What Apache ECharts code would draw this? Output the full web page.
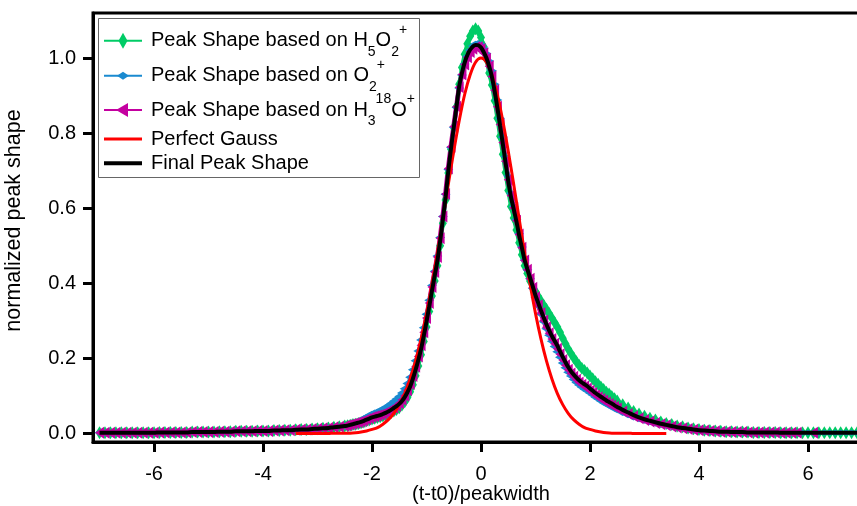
<!DOCTYPE html>
<html>
<head>
<meta charset="utf-8">
<script src="https://cdn.jsdelivr.net/npm/echarts@6/dist/echarts.min.js"></script>
<style>
html,body{margin:0;padding:0;background:#fff;}
#chart{width:857px;height:506px;}
</style>
</head>
<body>
<div id="chart"></div>
<script>
// ---- data ----
const xs = [-7,-6.9,-6.8,-6.7,-6.6,-6.5,-6.4,-6.3,-6.2,-6.1,-6,-5.9,-5.8,-5.7,-5.6,-5.5,-5.4,-5.3,-5.2,-5.1,-5,-4.9,-4.8,-4.7,-4.6,-4.5,-4.4,-4.3,-4.2,-4.1,-4,-3.9,-3.8,-3.7,-3.6,-3.5,-3.4,-3.3,-3.2,-3.1,-3,-2.9,-2.8,-2.7,-2.6,
-2.5,-2.45,-2.4,-2.35,-2.3,-2.25,-2.2,-2.15,-2.1,-2.05,-2,-1.95,-1.9,-1.85,-1.8,-1.75,-1.7,-1.65,-1.6,-1.55,-1.5,-1.45,-1.4,-1.35,-1.3,-1.25,-1.2,-1.15,-1.1,-1.05,-1,-0.95,-0.9,-0.85,-0.8,-0.75,-0.7,-0.65,-0.6,-0.55,-0.5,-0.45,-0.4,-0.35,-0.3,-0.25,-0.2,-0.15,-0.1,-0.05,0,0.05,0.1,0.15,0.2,0.25,0.3,0.35,0.4,0.45,0.5,0.55,0.6,0.65,0.7,0.75,0.8,0.85,0.9,0.95,1,1.05,1.1,1.15,1.2,1.25,1.3,1.35,1.4,1.45,1.5,1.55,1.6,1.65,1.7,1.75,1.8,1.85,1.9,1.95,2,2.05,2.1,2.15,2.2,2.25,2.3,2.35,2.4,2.45,2.5,
2.6,2.7,2.8,2.9,3,3.1,3.2,3.3,3.4,3.5,3.6,3.7,3.8,3.9,4,4.1,4.2,4.3,4.4,4.5,4.6,4.7,4.8,4.9,5,5.1,5.2,5.3,5.4,5.5,5.6,5.7,5.8,5.9,6,6.1,6.2,6.3,6.4,6.5,6.6,6.7,6.8,6.9,7];

// Peak Shape based on H5O2+
const greenY = [.002,.002,.002,.002,.002,.002,.002,.002,.002,.002,.002,.003,.003,.003,.003,.003,.003,.004,.004,.004,.004,.004,.005,.005,.005,.006,.006,.006,.006,.007,.007,.007,.008,.008,.009,.009,.010,.011,.011,.012,.013,.014,.015,.017,.018,
.020,.021,.022,.024,.025,.027,.029,.031,.034,.036,.039,.041,.043,.045,.047,.050,.053,.056,.060,.064,.069,.076,.085,.096,.111,.130,.154,.180,.210,.245,.284,.325,.366,.406,.447,.500,.560,.622,.694,.757,.815,.870,.930,.975,1.010,1.038,1.058,1.072,1.078,1.072,1.055,1.030,.998,.960,.928,.886,.840,.792,.744,.695,.647,.605,.574,.542,.508,.476,.447,.426,.406,.387,.378,.365,.353,.342,.331,.320,.308,.296,.284,.270,.254,.239,.225,.213,.202,.191,.182,.174,.168,.161,.153,.146,.138,.131,.124,.117,.110,.105,.099,.093,.087,
.077,.068,.059,.052,.046,.041,.036,.031,.027,.024,.020,.018,.015,.013,.011,.009,.008,.007,.006,.005,.005,.004,.004,.004,.003,.003,.003,.003,.003,.002,.002,.002,.002,.002,.002,.002,.002,.002,.002,.002,.002,.002,.002,.002,.002];

// Peak Shape based on O2+
const blueY = [.002,.002,.002,.002,.002,.002,.002,.002,.002,.002,.002,.003,.003,.003,.003,.003,.003,.004,.004,.004,.004,.004,.005,.005,.005,.006,.006,.006,.006,.007,.007,.007,.008,.008,.009,.009,.010,.011,.011,.012,.013,.014,.016,.017,.019,
.021,.022,.024,.027,.030,.033,.037,.041,.045,.049,.053,.056,.059,.062,.066,.070,.075,.080,.086,.092,.099,.108,.119,.133,.150,.170,.194,.220,.249,.282,.318,.355,.394,.432,.473,.522,.578,.637,.703,.762,.816,.868,.920,.955,.984,1.005,1.021,1.032,1.038,1.040,1.036,1.026,1.012,.992,.966,.930,.888,.840,.790,.738,.686,.640,.605,.570,.532,.497,.462,.436,.412,.387,.362,.340,.318,.298,.279,.262,.246,.232,.218,.203,.188,.175,.163,.153,.144,.136,.129,.123,.118,.113,.108,.103,.097,.092,.087,.082,.078,.074,.070,.066,.062,
.055,.049,.043,.038,.034,.030,.027,.024,.021,.018,.016,.014,.012,.010,.009,.008,.007,.006,.005,.005,.004,.004,.003,.003,.003,.003,.003,.003,.003,.002,.002,.002,.002,.002,.002,.002,.002,.002,.002,.002,.002,.002,.002,.002,.002];

// Peak Shape based on H3 18O+
const magentaY = [.002,.002,.002,.002,.002,.002,.002,.002,.002,.002,.002,.003,.003,.003,.003,.003,.003,.004,.004,.004,.004,.004,.005,.005,.005,.006,.006,.006,.006,.007,.007,.007,.008,.008,.009,.009,.010,.011,.011,.012,.013,.014,.015,.017,.018,
.020,.022,.024,.026,.028,.030,.032,.035,.038,.041,.044,.046,.048,.050,.053,.056,.060,.064,.069,.074,.081,.090,.101,.115,.132,.153,.178,.205,.235,.270,.308,.348,.390,.430,.470,.520,.578,.638,.706,.764,.818,.870,.922,.956,.983,1.002,1.016,1.025,1.029,1.029,1.024,1.013,.998,.978,.951,.914,.870,.823,.775,.725,.676,.634,.601,.567,.530,.495,.461,.436,.412,.388,.363,.342,.321,.301,.283,.267,.252,.239,.226,.211,.196,.182,.170,.160,.151,.143,.136,.130,.125,.120,.114,.108,.102,.097,.092,.088,.083,.079,.075,.071,.067,
.059,.052,.046,.041,.036,.032,.028,.025,.022,.019,.016,.014,.012,.010,.009,.008,.007,.006,.005,.005,.004,.004,.004,.003,.003,.003,.003,.003,.003,.002,.002,.002,.002,null,null,.002,null,null,null,null,null,null,null,null,null];

// Final Peak Shape
const finalY = [.002,.002,.002,.002,.002,.002,.002,.002,.002,.002,.002,.003,.003,.003,.003,.003,.003,.004,.004,.004,.004,.004,.005,.005,.005,.006,.006,.006,.006,.007,.007,.007,.008,.008,.009,.009,.010,.011,.011,.012,.013,.014,.015,.017,.018,
.020,.021,.023,.025,.027,.029,.031,.034,.037,.040,.043,.045,.047,.049,.052,.055,.059,.063,.068,.073,.079,.087,.097,.110,.125,.146,.170,.196,.225,.260,.298,.338,.380,.420,.460,.512,.570,.630,.700,.760,.815,.870,.925,.960,.988,1.008,1.022,1.031,1.035,1.034,1.028,1.016,1.000,.978,.950,.912,.868,.820,.772,.722,.672,.630,.598,.565,.528,.495,.462,.438,.415,.392,.368,.348,.328,.309,.291,.275,.260,.247,.234,.219,.204,.190,.177,.166,.157,.149,.142,.136,.131,.126,.120,.114,.108,.103,.098,.093,.088,.084,.080,.075,.071,
.063,.056,.049,.043,.038,.034,.030,.026,.023,.020,.017,.015,.013,.011,.009,.008,.007,.006,.005,.005,.004,.004,.004,.003,.003,.003,.003,.003,.003,.002,.002,.002,.002,.002,.002,.002,.002,.002,.002,.002,.002,.002,.002,.002,.002];

// Perfect Gauss
const gaussX = [-3.4,-3.3,-3.2,-3.1,-3,-2.9,-2.8,-2.7,-2.6,-2.5,-2.4,-2.3,-2.2,-2.1,-2,-1.9,-1.8,-1.7,-1.6,-1.5,-1.4,-1.3,-1.2,-1.1,-1,-0.9,-0.8,-0.7,-0.6,-0.5,-0.4,-0.3,-0.2,-0.1,0,0.1,0.2,0.3,0.4,0.5,0.6,0.7,0.8,0.9,1,1.1,1.2,1.3,1.4,1.5,1.6,1.7,1.8,1.9,2,2.1,2.2,2.3,2.4,2.5,2.6,2.7,2.8,2.9,3,3.1,3.2,3.3,3.4];
const gaussY = [0,0,0,0,0,0,0,.001,.001,.001,.001,.002,.004,.007,.011,.016,.025,.037,.054,.077,.107,.146,.194,.252,.320,.398,.482,.572,.664,.752,.833,.903,.955,.989,1.000,.989,.955,.903,.833,.752,.664,.572,.482,.398,.320,.252,.194,.146,.107,.077,.054,.037,.025,.016,.011,.007,.004,.002,.001,.001,.001,.001,0,0,0,0,0,0,0];

const xTicks = [-6,-4,-2,0,2,4,6];
const yTicks = [0,0.2,0.4,0.6,0.8,1.0];

const legendLabels = [
  'Peak Shape based on H{sub|5}O{sub|2}{sup|+}',
  'Peak Shape based on O{sub|2}{sup|+}',
  'Peak Shape based on H{sub|3}{sup|18}O{sup|+}',
  'Perfect Gauss',
  'Final Peak Shape'
];

// ---- styling ----
const FONT = 'Liberation Sans, Arial, Helvetica, sans-serif';
const GREEN = '#00cc66', BLUE = '#1a8ad0', MAGENTA = '#c400a0', RED = '#ff0000', BLACK = '#000000';

function pairs(x, y) { return x.map((v, i) => [v, y[i] == null ? '-' : y[i]]); }

const chart = echarts.init(document.getElementById('chart'), null, {renderer: 'canvas'});

const axisCommon = {
  type: 'value',
  axisLine: {show: true, onZero: false, lineStyle: {color: '#000', width: 3}},
  axisTick: {show: true, inside: false, length: 10, lineStyle: {color: '#000', width: 3}},
  splitLine: {show: false},
  nameMoveOverlap: false
};

const lx0 = 104, lx1 = 142, lcx = 123, ltx = 151;
const ly = [40.7, 75.7, 110, 139, 163.3];
const richStyle = {
  sub: {fontSize: 14, fontFamily: FONT, lineHeight: 23, verticalAlign: 'bottom', fill: '#000'},
  sup: {fontSize: 14, fontFamily: FONT, lineHeight: 12, verticalAlign: 'top', fill: '#000'}
};

const graphic = [
  {type: 'rect', shape: {x: 98.5, y: 18.5, width: 321, height: 159}, style: {fill: '#fff', stroke: '#666', lineWidth: 1}, z: 100},
  {type: 'line', shape: {x1: lx0, y1: ly[0], x2: lx1, y2: ly[0]}, style: {stroke: GREEN, lineWidth: 2}, z: 101},
  {type: 'polygon', shape: {points: [[lcx, ly[0]-8], [lcx+4.5, ly[0]], [lcx, ly[0]+8], [lcx-4.5, ly[0]]]}, style: {fill: GREEN}, z: 102},
  {type: 'line', shape: {x1: lx0, y1: ly[1], x2: lx1, y2: ly[1]}, style: {stroke: BLUE, lineWidth: 2}, z: 101},
  {type: 'polygon', shape: {points: [[lcx-6, ly[1]], [lcx, ly[1]-4], [lcx+6, ly[1]], [lcx, ly[1]+4]]}, style: {fill: BLUE}, z: 102},
  {type: 'line', shape: {x1: lx0, y1: ly[2], x2: lx1, y2: ly[2]}, style: {stroke: MAGENTA, lineWidth: 2}, z: 101},
  {type: 'polygon', shape: {points: [[lcx-7, ly[2]], [lcx+5, ly[2]-7], [lcx+5, ly[2]+7]]}, style: {fill: MAGENTA}, z: 102},
  {type: 'line', shape: {x1: lx0, y1: ly[3], x2: lx1, y2: ly[3]}, style: {stroke: RED, lineWidth: 3}, z: 101},
  {type: 'line', shape: {x1: lx0, y1: ly[4], x2: lx1, y2: ly[4]}, style: {stroke: BLACK, lineWidth: 4}, z: 101}
];
legendLabels.forEach((t, i) => {
  graphic.push({
    type: 'text', x: ltx, y: ly[i], z: 103,
    style: {
      text: t, fill: '#000', fontSize: 20, fontFamily: FONT, lineHeight: 36,
      align: 'left', verticalAlign: 'middle', textAlign: 'left', textVerticalAlign: 'middle',
      rich: richStyle
    }
  });
});

function markerSeries(name, y, color, symbol, size, rotate, lw) {
  return {
    name, type: 'line', data: pairs(xs, y), color, z: 2,
    symbol, symbolSize: size, symbolRotate: rotate || 0, showSymbol: true, showAllSymbol: true,
    itemStyle: {color, borderWidth: 0},
    lineStyle: {color, width: lw},
    connectNulls: false, silent: true, emphasis: {disabled: true}, animation: false
  };
}

chart.setOption({
  animation: false,
  backgroundColor: '#fff',
  textStyle: {fontFamily: FONT},
  grid: {left: 93, top: 13, right: -12, bottom: 64, outerBoundsMode: 'none', containLabel: false,
    show: true, borderColor: '#000', borderWidth: 3, backgroundColor: 'transparent'},
  xAxis: Object.assign({}, axisCommon, {
    min: -7.12, max: 7.12,
    name: '(t-t0)/peakwidth', nameLocation: 'middle', nameGap: 42,
    nameTextStyle: {color: '#000', fontSize: 20, fontFamily: FONT},
    axisTick: Object.assign({}, axisCommon.axisTick, {customValues: xTicks}),
    axisLabel: {customValues: xTicks, margin: 22, color: '#000', fontSize: 20, fontFamily: FONT}
  }),
  yAxis: Object.assign({}, axisCommon, {
    min: -0.0225, max: 1.12,
    name: 'normalized peak shape', nameLocation: 'middle', nameGap: 68,
    nameTextStyle: {color: '#000', fontSize: 21.5, fontFamily: FONT, padding: [0, 0, 0, 14]},
    axisTick: Object.assign({}, axisCommon.axisTick, {customValues: yTicks}),
    axisLabel: {customValues: yTicks, margin: 17, color: '#000', fontSize: 20, fontFamily: FONT,
      formatter: v => Number(v).toFixed(1)}
  }),
  series: [
    markerSeries('Peak Shape based on H5O2+', greenY, GREEN, 'diamond', [8, 13], 0, 4),
    markerSeries('Peak Shape based on O2+', blueY, BLUE, 'diamond', [10, 6], 0, 3),
    markerSeries('Peak Shape based on H3 18O+', magentaY, MAGENTA, 'triangle', [12, 9], 90, 5),
    {name: 'Perfect Gauss', type: 'line', data: pairs(gaussX, gaussY), showSymbol: false, symbol: 'none', z: 5,
      smooth: 0.3, lineStyle: {color: RED, width: 3}, color: RED, silent: true, animation: false},
    {name: 'Final Peak Shape', type: 'line', data: pairs(xs, finalY), showSymbol: false, symbol: 'none', z: 6,
      smooth: 0.3, lineStyle: {color: BLACK, width: 4}, color: BLACK, silent: true, animation: false}
  ],
  graphic: graphic
});
</script>
</body>
</html>
